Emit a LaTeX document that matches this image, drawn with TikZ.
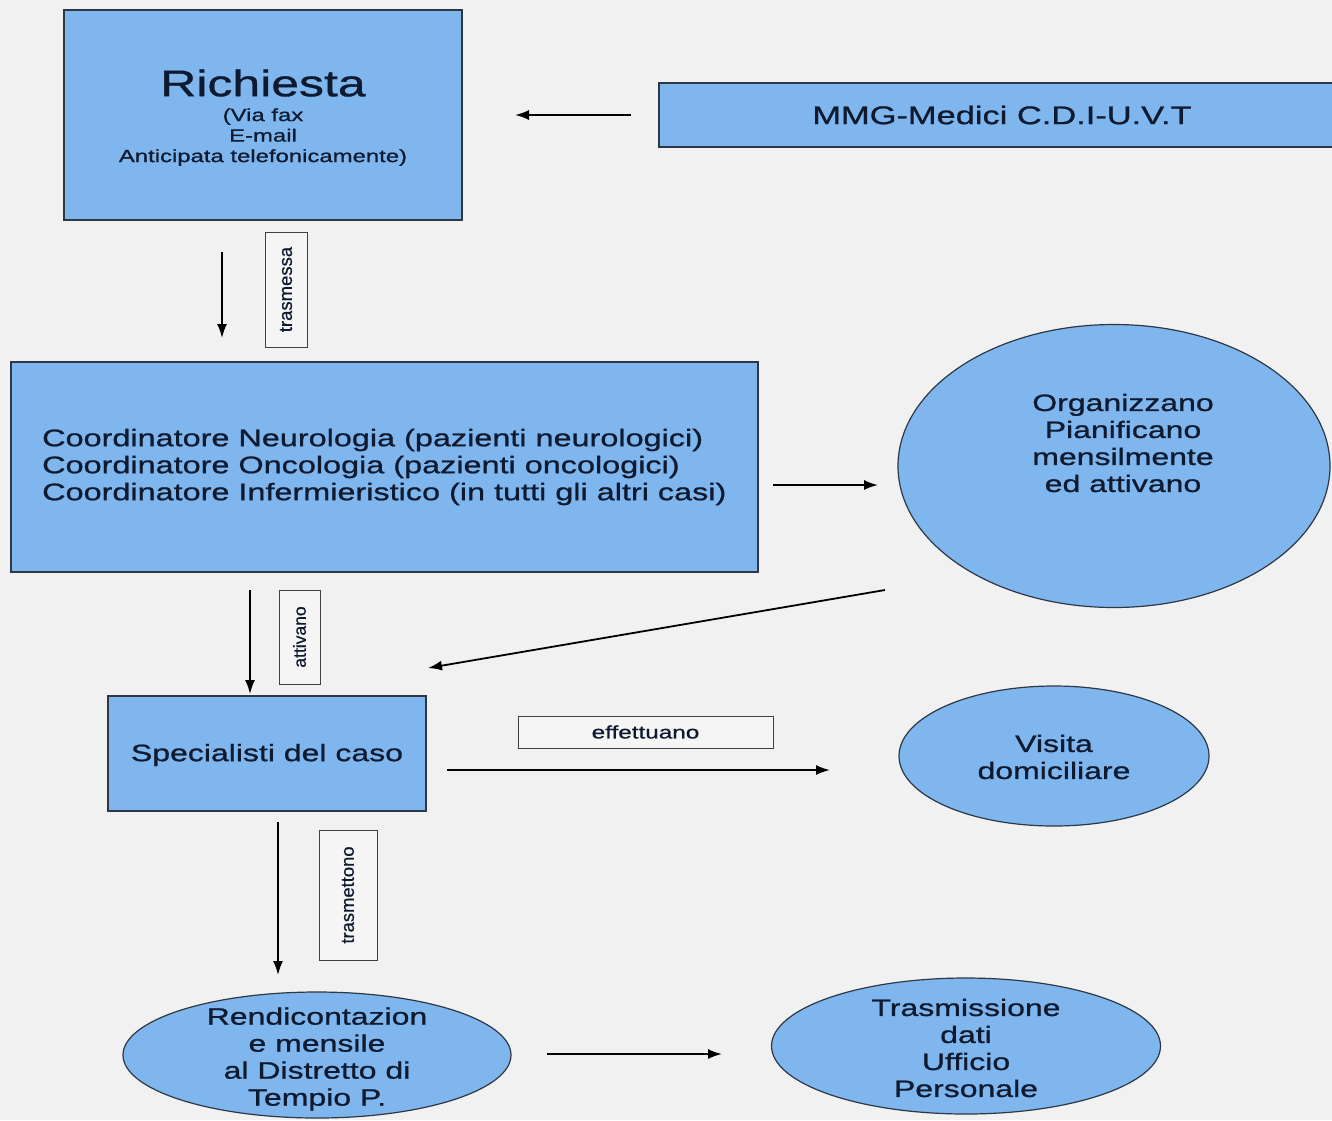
\documentclass[tikz,border=0pt]{standalone}
\usepackage{fontspec}
\setmainfont[FakeStretch=1.35,FakeBold=0.9]{Liberation Sans}
\newfontfamily\rotfont[FakeBold=0.6]{Liberation Sans}
\usetikzlibrary{shapes.geometric,arrows.meta}
\definecolor{bg}{RGB}{241,241,241}
\definecolor{boxfill}{RGB}{127,182,238}
\definecolor{edge}{RGB}{45,55,70}
\definecolor{ink}{RGB}{14,26,48}
\definecolor{lblfill}{RGB}{245,245,245}
\tikzset{
 box/.style={draw=edge, fill=boxfill, line width=1.2pt, inner sep=0pt},
 oval/.style={ellipse, draw=edge, fill=boxfill, line width=1.2pt, inner sep=0pt},
 txt/.style={text=ink, align=center, inner sep=0pt, font=\fontsize{23.7}{27}\selectfont},
 lbl/.style={draw=black!75, fill=lblfill, line width=1pt, inner sep=0pt, text=ink},
 arr/.style={-{Latex[length=14pt,width=10pt]}, line width=1.8pt, draw=black}
}
\begin{document}
\begin{tikzpicture}[x=1pt,y=-1pt]
\useasboundingbox (0,0) rectangle (1332,1120);
\clip (0,0) rectangle (1332,1120);
\fill[bg] (0,0) rectangle (1332,1120);

% boxes
\node[box, minimum width=398pt, minimum height=210pt] (req) at (263,115) {};
\node[txt, font=\fontsize{37}{40}\selectfont] (reqtitle) at (263,83) {Richiesta};
\node[txt, font=\fontsize{17.7}{20.5}\selectfont] (reqsub) at (263,137) {(Via fax\\E-mail\\Anticipata telefonicamente)};

\node[box, txt, draw=edge, minimum width=686pt, minimum height=64pt, font=\fontsize{25.5}{28}\selectfont] (mmg) at (1002,115) {MMG-Medici C.D.I-U.V.T};

\node[box, minimum width=747pt, minimum height=210pt] (coord) at (384.5,467) {};
\node[txt, align=left, anchor=west, font=\fontsize{24}{27}\selectfont] (coordtext) at (42,467) {Coordinatore Neurologia (pazienti neurologici)\\Coordinatore Oncologia (pazienti oncologici)\\Coordinatore Infermieristico (in tutti gli altri casi)};

\node[oval, minimum width=432pt, minimum height=283pt] (org) at (1114,466) {};
\node[txt] (orgtext) at (1123,443) {Organizzano\\Pianificano\\mensilmente\\ed attivano};

\node[box, minimum width=318pt, minimum height=115pt] (spec) at (267,753.5) {};
\node[txt] (spectext) at (267,755) {Specialisti del caso};

\node[oval, minimum width=310pt, minimum height=140pt] (visita) at (1054,756) {};
\node[txt] (visitatext) at (1054,757) {Visita\\domiciliare};

\node[oval, minimum width=388pt, minimum height=126pt] (rend) at (317,1055) {};
\node[txt] (rendtext) at (317,1059) {Rendicontazion\\e mensile\\al Distretto di\\Tempio P.};

\node[oval, minimum width=389pt, minimum height=136pt] (trasm) at (966,1046) {};
\node[txt] (trasmtext) at (966,1048) {Trasmissione\\dati\\Ufficio\\Personale};

% labels
\node[lbl, rotate=90, minimum width=115pt, minimum height=42pt, font=\rotfont\fontsize{18.5}{20}\selectfont] (l1) at (286,289.5) {trasmessa};
\node[lbl, rotate=90, minimum width=94pt, minimum height=41pt, font=\rotfont\fontsize{17.5}{20}\selectfont] (l2) at (299.5,637) {attivano};
\node[lbl, rotate=90, minimum width=130pt, minimum height=58pt, font=\rotfont\fontsize{18.4}{20}\selectfont] (l3) at (348,895) {trasmettono};
\node[lbl, minimum width=255pt, minimum height=32pt, font=\fontsize{18}{20}\selectfont] (l4) at (645.5,732) {effettuano};

% connector end points
\coordinate (a1s) at (631,115); \coordinate (a1e) at (515,115);
\coordinate (a2s) at (222,252); \coordinate (a2e) at (222,338);
\coordinate (a3s) at (773,485); \coordinate (a3e) at (878,485);
\coordinate (a4s) at (885,590); \coordinate (a4e) at (428,668);
\coordinate (a5s) at (250,590); \coordinate (a5e) at (250,694);
\coordinate (a6s) at (447,770); \coordinate (a6e) at (830,770);
\coordinate (a7s) at (278,822); \coordinate (a7e) at (278,975);
\coordinate (a8s) at (547,1054); \coordinate (a8e) at (722,1054);

\draw[arr] (a1s) -- (a1e);
\draw[arr] (a2s) -- (a2e);
\draw[arr] (a3s) -- (a3e);
\draw[arr] (a4s) -- (a4e);
\draw[arr] (a5s) -- (a5e);
\draw[arr] (a6s) -- (a6e);
\draw[arr] (a7s) -- (a7e);
\draw[arr] (a8s) -- (a8e);
\end{tikzpicture}
\end{document}
